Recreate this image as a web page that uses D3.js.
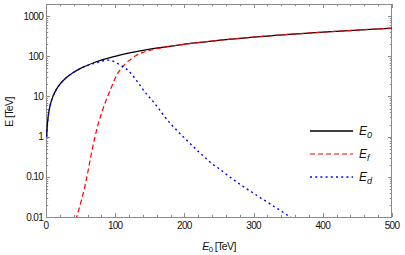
<!DOCTYPE html>
<html><head><meta charset="utf-8">
<script src="https://cdn.jsdelivr.net/npm/d3@7"></script>
<style>
html,body{margin:0;padding:0;background:#fff;}
svg{display:block;font-family:"Liberation Sans",Arial,sans-serif;}
</style></head>
<body><div id="chart"></div>
<script>
// ---- data ----
const e0X = [1,2,3,5,7,10,15,20,30,40,50,70,100,150,200,300,400,500];
const e0Y = [1,2,3,5,7,10,15,20,30,40,50,70,100,150,200,300,400,500];

const efX = [43,45,50,55,60,65,70,75,80,85,90,95,100,105,110,115,120,125,130,140,150,160,170,180,190,200,220,250,300,350,400,450,500];
const efY = [0.0085,0.011,0.022,0.047,0.12,0.34,0.87,1.95,3.7,6.6,11,17.8,28.5,41,53,65,78,91,104,125,140.5,154,166.5,178,188.6,199,219.6,249.8,300,350,400,450,500];

const edX = [1,2,3,5,7,10,15,20,30,40,50,60,70,75,80,85,90,95,100,105,110,115,120,125,130,135,140,150,160,170,180,190,200,210,220,230,240,250,260,270,280,290,300,310,320,330,340,350,358];
const edY = [1,2,3,5,7,10,15,20,30,40,49.8,59,67,71,75.5,79,80,77.5,71.5,64,57,50,42,34,26,20,15,9.3,5.8,3.4,2.1,1.38,0.93,0.63,0.43,0.30,0.21,0.16,0.117,0.087,0.066,0.05,0.039,0.030,0.0234,0.018,0.0141,0.0107,0.0088];

const xTicks = [0,100,200,300,400,500];
const yTicks = [0.01,0.1,1,10,100,1000];
const yTickLabels = ["0.01","0.10","1","10","100","1000"];
const legendLabels = [["E","0"],["E","f"],["E","d"]];

// ---- layout ----
const W = 405, H = 255;
const m = {l:46, r:13, t:4, b:38};
const svg = d3.select("#chart").append("svg").attr("width",W).attr("height",H);
const x = d3.scaleLinear().domain([0,500]).range([m.l, W-m.r]);
const y = d3.scaleLog().domain([0.01,2000]).range([H-m.b, m.t]);
const frameCol = "#8a8a8a";

svg.append("defs").append("clipPath").attr("id","clip")
  .append("rect").attr("x",m.l).attr("y",m.t).attr("width",W-m.r-m.l).attr("height",H-m.b-m.t);

// ticks (inside, all four sides)
const minorX = d3.range(0,501,20).filter(v=>v%100!==0);
const minorY = [];
[0.01,0.1,1,10,100,1000].forEach(d=>{for(let k=2;k<=9;k++){const v=d*k; if(v<=2000) minorY.push(v);}});
const tg = svg.append("g").attr("stroke",frameCol).attr("stroke-width",1);
const y0 = H-m.b, y1 = m.t, x0 = m.l, x1 = W-m.r;
xTicks.forEach(v=>{
  const px = Math.round(x(v))+0.5;
  tg.append("line").attr("x1",px).attr("x2",px).attr("y1",y0).attr("y2",y0-4);
  tg.append("line").attr("x1",px).attr("x2",px).attr("y1",y1).attr("y2",y1+4);
});
minorX.forEach(v=>{
  const px = Math.round(x(v))+0.5;
  tg.append("line").attr("x1",px).attr("x2",px).attr("y1",y0).attr("y2",y0-2.2);
  tg.append("line").attr("x1",px).attr("x2",px).attr("y1",y1).attr("y2",y1+2.2);
});
yTicks.forEach(v=>{
  const py = Math.round(y(v))+0.5;
  tg.append("line").attr("x1",x0).attr("x2",x0+4).attr("y1",py).attr("y2",py);
  tg.append("line").attr("x1",x1).attr("x2",x1-4).attr("y1",py).attr("y2",py);
});
minorY.forEach(v=>{
  const py = Math.round(y(v))+0.5;
  tg.append("line").attr("x1",x0).attr("x2",x0+2.2).attr("y1",py).attr("y2",py);
  tg.append("line").attr("x1",x1).attr("x2",x1-2.2).attr("y1",py).attr("y2",py);
});
svg.append("rect").attr("x",x0+0.5).attr("y",y1+0.5).attr("width",x1-x0-1).attr("height",y0-y1)
  .attr("fill","none").attr("stroke",frameCol).attr("stroke-width",1);

// tick labels
const lab = svg.append("g").attr("font-size",10).attr("fill","#111").style("letter-spacing","-0.7px");
xTicks.forEach(v=>{
  lab.append("text").attr("x",x(v)).attr("y",y0+12).attr("text-anchor","middle").text(v);
});
yTicks.forEach((v,i)=>{
  lab.append("text").attr("x",x0-3).attr("y",y(v)+3.5).attr("text-anchor","end").text(yTickLabels[i]);
});

// axis titles
svg.append("text").attr("transform",`translate(${13},${112}) rotate(-90)`)
  .attr("text-anchor","middle").attr("font-size",10.5).style("letter-spacing","-0.6px").attr("fill","#111").text("E [TeV]");
const xt = svg.append("text").attr("x",(x0+x1)/2).attr("y",y0+32.5).attr("text-anchor","middle")
  .attr("font-size",10.5).style("letter-spacing","-0.6px").attr("fill","#111");
xt.append("tspan").attr("font-style","italic").text("E");
xt.append("tspan").attr("font-size",8).attr("dy",2).text("0");
xt.append("tspan").attr("dy",-2).text(" [TeV]");

// curves
const line = d3.line().x(d=>x(d[0])).y(d=>y(d[1])).curve(d3.curveMonotoneX);
const plot = svg.append("g").attr("clip-path","url(#clip)");
const styles = [
  {col:"#000000", dash:null, w:1.3},
  {col:"#ff0000", dash:"5,3", w:1.2},
  {col:"#0000ff", dash:"2,3.2", w:1.4}
];
const series = [d3.zip(e0X,e0Y), d3.zip(efX,efY), d3.zip(edX,edY)];
series.forEach((s,i)=>{
  plot.append("path").datum(s).attr("d",line).attr("fill","none")
    .attr("stroke",styles[i].col).attr("stroke-width",styles[i].w)
    .attr("stroke-dasharray",styles[i].dash);
});

// legend
const legY = [131,154,177];
legendLabels.forEach((l,i)=>{
  svg.append("line").attr("x1",310).attr("x2",353).attr("y1",legY[i]).attr("y2",legY[i])
    .attr("stroke",styles[i].col).attr("stroke-width",styles[i].w).attr("stroke-dasharray",styles[i].dash);
  const t = svg.append("text").attr("x",359).attr("y",legY[i]+4).attr("font-size",12).attr("fill","#111");
  t.append("tspan").attr("font-style","italic").text(l[0]);
  t.append("tspan").attr("font-style","italic").attr("font-size",9).attr("dy",2.5).text(l[1]);
});
</script></body></html>
